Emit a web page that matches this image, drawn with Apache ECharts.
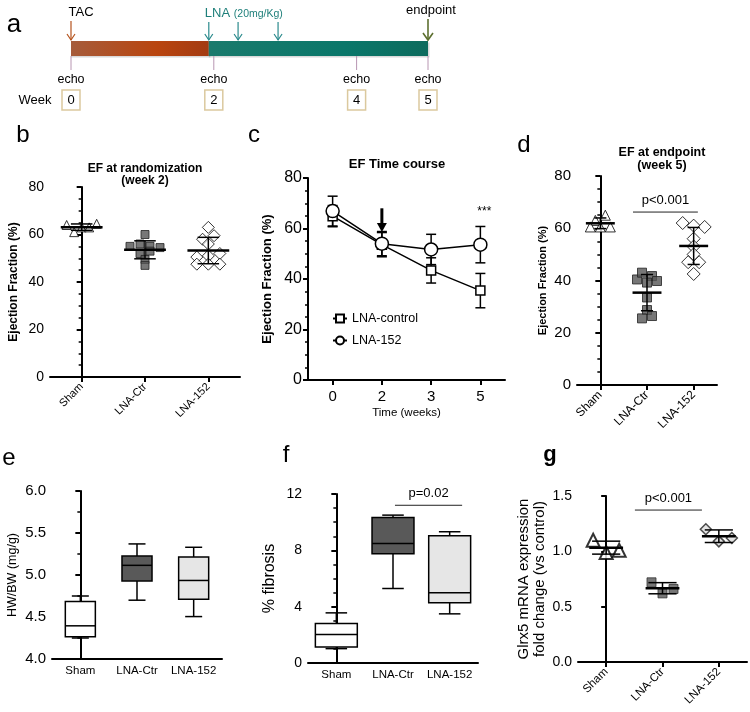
<!DOCTYPE html>
<html><head><meta charset="utf-8">
<script src="https://cdn.jsdelivr.net/npm/echarts@6/dist/echarts.min.js"></script>
<style>html,body{margin:0;padding:0;background:#fff}#c{width:750px;height:712px}</style>
</head><body><div id="c"></div>
<script>
const FONT = '"Liberation Sans", Arial, Helvetica, sans-serif';

// ---------- Panel a (timeline, weeks) ----------
const echoWeeks = [0, 2, 4, 5];
const tacWeek = 0;
const lnaDoseWeeks = [1.93, 2.34, 2.9];
const endpointWeek = 5;

// ---------- Panel b: EF at randomization (week 2) ----------
const groups = ['Sham', 'LNA-Ctr', 'LNA-152'];
const bSham = [64, 61, 63, 63, 64.5];
const bCtr = [55, 56, 60, 55, 54.5, 52, 49.5, 47, 53];
const b152 = [63, 58, 59.5, 56, 50.5, 51, 52, 47.5, 47.5, 47.5];

// ---------- Panel c: EF time course ----------
const weeks = ['0', '2', '3', '5'];
const cCtrMean = [64.9, 53.6, 43.4, 35.4];
const cCtrSD = [4.2, 4.8, 5.0, 6.8];
const c152Mean = [66.9, 54.0, 51.7, 53.6];
const c152SD = [5.9, 4.8, 6.0, 7.2];

// ---------- Panel d: EF at endpoint (week 5) ----------
const dSham = [63, 65, 60.5, 60.5, 60.5];
const dCtr = [40.4, 43, 41.7, 39.2, 39.8, 33.5, 28.7, 25.5, 26.4];
const d152 = [62, 61, 60.5, 56, 53, 50, 47, 47, 42.5];

// ---------- Panel e: HW/BW box [min, Q1, median, Q3, max] ----------
const eSham = [4.25, 4.265, 4.395, 4.685, 4.75];
const eCtr = [4.70, 4.93, 5.115, 5.225, 5.37];
const e152 = [4.505, 4.71, 4.935, 5.215, 5.33];

// ---------- Panel f: % fibrosis box ----------
const fSham = [1.02, 1.14, 2.02, 2.80, 3.56];
const fCtr = [5.29, 7.75, 8.49, 10.34, 10.5];
const f152 = [3.49, 4.27, 4.98, 9.03, 9.32];

// ---------- Panel g: Glrx5 mRNA ----------
const gSham = [1.10, 0.99, 1.01];
const gCtr = [0.72, 0.62, 0.66];
const g152 = [1.20, 1.09, 1.12];

// ---------- helpers ----------
function mean(a){return a.reduce((s,v)=>s+v,0)/a.length;}
function sd(a){const m=mean(a);return Math.sqrt(a.reduce((s,v)=>s+(v-m)*(v-m),0)/(a.length-1));}
// GraphPad-like scatter layout: points with close values share a row, spread horizontally
function swarmData(vals, idx, pxY, catPx, thrPx, spPx){
  const order=vals.map((v,i)=>i).sort((a,b)=>vals[b]-vals[a]);
  const rows=[];let cur=null;
  order.forEach(i=>{ if(cur && (vals[cur[0]]-vals[i])*pxY < thrPx) cur.push(i); else {cur=[i];rows.push(cur);} });
  const off=new Array(vals.length).fill(0);
  rows.forEach(r=>{ r.sort((a,b)=>a-b); r.forEach((i,k)=>{ off[i]=(k-(r.length-1)/2)*spPx/catPx; }); });
  return vals.map((v,i)=>[idx+off[i],v]);
}
const BLACK='#000';
function yAx(grid,min,max,interval,o){
  return {type:'value',gridIndex:grid,min,max,interval,
    axisLine:{show:true,lineStyle:{color:BLACK,width:2}},
    axisTick:{show:true,length:5,lineStyle:{color:BLACK,width:2}},
    minorTick:{show:(o.minor||0)>0,splitNumber:o.minor||2,length:3,lineStyle:{color:BLACK,width:1.5}},
    splitLine:{show:false},
    axisLabel:{color:BLACK,fontSize:o.fs||14,margin:o.margin||6,fontFamily:FONT,formatter:o.fmt||'{value}'},
    name:o.name,nameLocation:'middle',nameGap:o.gap,
    nameTextStyle:{color:BLACK,fontFamily:FONT,fontSize:o.nfs,fontWeight:o.bold?'bold':'normal',lineHeight:o.nlh||o.nfs*1.2}};
}
function xCat(grid,data,o){
  return {type:'category',gridIndex:grid,data,boundaryGap:true,
    axisLine:{show:true,lineStyle:{color:BLACK,width:2}},
    axisTick:{show:!!o.tick,alignWithLabel:true,length:5,lineStyle:{color:BLACK,width:2}},
    axisLabel:{color:BLACK,fontSize:o.fs||11,rotate:o.rotate||0,margin:o.margin||8,fontFamily:FONT,interval:0},
    name:o.name,nameLocation:'middle',nameGap:o.gap,
    nameTextStyle:{color:BLACK,fontFamily:FONT,fontSize:o.nfs||11}};
}
function xVal(grid){return {type:'value',gridIndex:grid,min:-0.5,max:2.5,show:false};}

function meanSDSeries(xi,yi,sets,meanR,capR,z){
  return {type:'custom',xAxisIndex:xi,yAxisIndex:yi,z:z||5,silent:true,
    data:sets.map((a,i)=>[i,mean(a),sd(a)]),
    renderItem:(p,api)=>{
      const x=api.value(0),m=api.value(1),s=api.value(2);
      const w=api.size([1,0])[0];
      const c=api.coord([x,m]),t=api.coord([x,m+s]),b=api.coord([x,m-s]);
      const mh=w*meanR,ch=w*capR;
      const st={stroke:BLACK,lineWidth:1.5};
      return {type:'group',children:[
        {type:'line',shape:{x1:c[0],y1:t[1],x2:c[0],y2:b[1]},style:st},
        {type:'line',shape:{x1:c[0]-ch,y1:t[1],x2:c[0]+ch,y2:t[1]},style:st},
        {type:'line',shape:{x1:c[0]-ch,y1:b[1],x2:c[0]+ch,y2:b[1]},style:st},
        {type:'line',shape:{x1:c[0]-mh,y1:c[1],x2:c[0]+mh,y2:c[1]},style:{stroke:BLACK,lineWidth:2.5}}
      ]};
    }};
}
const boxFills=['#ffffff','#595959','#e6e6e6'];
function boxSeries(xi,yi,sets,boxR,capR){
  return {type:'custom',xAxisIndex:xi,yAxisIndex:yi,z:4,silent:true,
    data:sets.map((a,i)=>[i].concat(a)),
    renderItem:(p,api)=>{
      const i=api.value(0),w=api.size([1,0])[0];
      const y=k=>api.coord([i,api.value(k)])[1];
      const cx=api.coord([i,api.value(3)])[0];
      const bh=w*boxR,ch=w*capR;
      const st={stroke:BLACK,lineWidth:1.5};
      const yMin=y(1),yQ1=y(2),yMed=y(3),yQ3=y(4),yMax=y(5);
      return {type:'group',children:[
        {type:'line',shape:{x1:cx,y1:yMax,x2:cx,y2:yQ3},style:st},
        {type:'line',shape:{x1:cx,y1:yQ1,x2:cx,y2:yMin},style:st},
        {type:'line',shape:{x1:cx-ch,y1:yMax,x2:cx+ch,y2:yMax},style:st},
        {type:'line',shape:{x1:cx-ch,y1:yMin,x2:cx+ch,y2:yMin},style:st},
        {type:'rect',shape:{x:cx-bh,y:yQ3,width:2*bh,height:yQ1-yQ3},style:{fill:boxFills[i],stroke:BLACK,lineWidth:1.5}},
        {type:'line',shape:{x1:cx-bh,y1:yMed,x2:cx+bh,y2:yMed},style:st}
      ]};
    }};
}
function sigSeries(xi,yi,from,to,yv,text){
  return {type:'custom',xAxisIndex:xi,yAxisIndex:yi,z:6,silent:true,data:[[from,to,yv]],
    renderItem:(p,api)=>{
      const a=api.coord([api.value(0),api.value(2)]),b=api.coord([api.value(1),api.value(2)]);
      return {type:'group',children:[
        {type:'line',shape:{x1:a[0],y1:a[1],x2:b[0],y2:b[1]},style:{stroke:'#222',lineWidth:1}},
        {type:'text',x:(a[0]+b[0])/2,y:a[1]-12,style:{text:text,fill:BLACK,fontSize:13,fontFamily:FONT,align:'center',verticalAlign:'middle'}}
      ]};
    }};
}

// grid geometry
const G = {
  a:{left:71,top:41,width:357,height:15},
  b:{left:50,top:187,width:190,height:190},
  c:{left:308,top:178,width:197,height:202},
  d:{left:577,top:176,width:140,height:209},
  e:{left:52,top:491,width:170,height:168},
  f:{left:308,top:494,width:170,height:169},
  g:{left:578,top:496,width:169,height:166}
};
const bpx=190/80, bcat=190/3, dpx=209/80, dcat=140/3, gpx=166/1.5, gcat=169/3;

const phaseColors=[['#a65c3b','#b9450f','#a33b12'],['#1a7a6c','#0a776a','#0d6b5d']];

const option = {
  animation:false,
  backgroundColor:'#fff',
  textStyle:{fontFamily:FONT},
  grid:[G.a,G.b,G.c,G.d,G.e,G.f,G.g].map(g=>Object.assign({containLabel:false},g)),
  xAxis:[
    {type:'value',gridIndex:0,min:0,max:5,show:false},
    xCat(1,groups,{tick:true,rotate:45,fs:11,margin:8}),
    xVal(1),
    xCat(2,weeks,{tick:true,fs:15,margin:9,name:'Time (weeks)',gap:27,nfs:11.5}),
    xCat(3,groups,{tick:true,rotate:45,fs:12,margin:8}),
    xVal(3),
    xCat(4,groups,{tick:false,fs:11.5,margin:6}),
    xVal(4),
    xCat(5,groups,{tick:false,fs:11.5,margin:6}),
    xVal(5),
    xCat(6,groups,{tick:true,rotate:45,fs:11.5,margin:8}),
    xVal(6)
  ],
  yAxis:[
    {type:'value',gridIndex:0,min:0,max:1,show:false},
    yAx(1,0,80,20,{minor:4,fs:14,name:'Ejection Fraction (%)',gap:29,nfs:12,bold:true}),
    yAx(2,0,80,20,{minor:4,fs:16,name:'Ejection Fraction (%)',gap:33,nfs:13,bold:true}),
    yAx(3,0,80,20,{minor:4,fs:15,name:'Ejection Fraction (%)',gap:27,nfs:11,bold:true}),
    yAx(4,4,6,0.5,{minor:2,fs:15,name:'HW/BW (mg/g)',gap:32,nfs:12.5,fmt:v=>v.toFixed(1)}),
    yAx(5,0,12,4,{minor:4,fs:14,name:'% fibrosis',gap:29,nfs:16}),
    yAx(6,0,1.5,0.5,{minor:0,fs:14,name:'Glrx5 mRNA expression\nfold change (vs control)',gap:30,nfs:15,nlh:16,fmt:v=>v.toFixed(1)})
  ],
  legend:{data:['LNA-control','LNA-152'],orient:'vertical',left:327,top:307,itemGap:9,itemWidth:14,itemHeight:10,
    textStyle:{fontSize:12.5,color:BLACK,fontFamily:FONT}},
  series:[
    // ---- panel a ----
    {type:'custom',xAxisIndex:0,yAxisIndex:0,silent:true,z:2,
      data:[[tacWeek,lnaDoseWeeks[0]],[lnaDoseWeeks[0],endpointWeek]],
      renderItem:(p,api)=>{
        const a=api.coord([api.value(0),1]),b=api.coord([api.value(1),0]);
        const c=phaseColors[p.dataIndex];
        return {type:'group',children:[
          {type:'rect',shape:{x:a[0],y:a[1]+1.5,width:b[0]-a[0]+1.5,height:b[1]-a[1]},style:{fill:'rgba(0,0,0,0.15)'}},
          {type:'rect',shape:{x:a[0],y:a[1],width:b[0]-a[0],height:b[1]-a[1]},
          style:{fill:new echarts.graphic.LinearGradient(0,0,1,0,[{offset:0,color:c[0]},{offset:0.62,color:c[1]},{offset:1,color:c[2]}])}}]};
      }},
    {type:'custom',xAxisIndex:0,yAxisIndex:0,silent:true,z:3,
      data:echoWeeks.map(w=>[w,0]),
      renderItem:(p,api)=>{
        const w=api.value(0),q=api.coord([w,0]),x=q[0],y=q[1];
        return {type:'group',children:[
          {type:'line',shape:{x1:x,y1:y,x2:x,y2:y+14},style:{stroke:'#b896b2',lineWidth:1}},
          {type:'text',x:x,y:y+24,style:{text:'echo',fill:BLACK,fontSize:12.5,fontFamily:FONT,align:'center',verticalAlign:'middle'}},
          {type:'rect',shape:{x:x-9,y:y+34,width:18,height:20},style:{fill:'none',stroke:'#dbc99e',lineWidth:1.5}},
          {type:'text',x:x,y:y+44,style:{text:String(w),fill:BLACK,fontSize:13,fontFamily:FONT,align:'center',verticalAlign:'middle'}}
        ]};
      }},
    {type:'custom',xAxisIndex:0,yAxisIndex:0,silent:true,z:3,
      data:[[tacWeek,0]].concat(lnaDoseWeeks.map((w,i)=>[w,i===0?1:2])).concat([[endpointWeek,3]]),
      renderItem:(p,api)=>{
        const kind=api.value(1),q=api.coord([api.value(0),1]),x=q[0],tip=q[1]-1;
        const col=['#b5531d','#2a8a8c','#2a8a8c','#5d7030'][kind];
        const len=[19,18,18,21][kind], hw=kind===3?5:4, hh=kind===3?7:6, lw=kind===3?1.6:1.2;
        const ch=[
          {type:'line',shape:{x1:x,y1:tip-len,x2:x,y2:tip},style:{stroke:col,lineWidth:lw}},
          {type:'polyline',shape:{points:[[x-hw,tip-hh],[x,tip],[x+hw,tip-hh]]},style:{stroke:col,lineWidth:lw,fill:'none'}}
        ];
        if(kind===0) ch.push({type:'text',x:x+10,y:tip-28,style:{text:'TAC',fill:BLACK,fontSize:13,fontFamily:FONT,align:'center',verticalAlign:'middle'}});
        if(kind===1){
          ch.push({type:'text',x:x-4,y:tip-27,style:{text:'LNA',fill:'#1e7f7a',fontSize:13,fontFamily:FONT,align:'left',verticalAlign:'middle'}});
          ch.push({type:'text',x:x+25,y:tip-26,style:{text:'(20mg/Kg)',fill:'#1e7f7a',fontSize:10.5,fontFamily:FONT,align:'left',verticalAlign:'middle'}});
        }
        if(kind===3) ch.push({type:'text',x:x+3,y:tip-30,style:{text:'endpoint',fill:BLACK,fontSize:13,fontFamily:FONT,align:'center',verticalAlign:'middle'}});
        return {type:'group',children:ch};
      }},
    // ---- panel b ----
    {type:'scatter',xAxisIndex:2,yAxisIndex:1,z:3,symbol:'triangle',symbolSize:9,
      itemStyle:{color:'#fff',borderColor:BLACK,borderWidth:1},data:swarmData(bSham,0,bpx,bcat,10,7.5)},
    {type:'scatter',xAxisIndex:2,yAxisIndex:1,z:3,symbol:'rect',symbolSize:8,
      itemStyle:{color:'#555',borderColor:'#222',borderWidth:1},data:swarmData(bCtr,1,bpx,bcat,5.4,10)},
    {type:'scatter',xAxisIndex:2,yAxisIndex:1,z:3,symbol:'diamond',symbolSize:12,
      itemStyle:{color:'#fff',borderColor:BLACK,borderWidth:1},data:swarmData(b152,2,bpx,bcat,6.6,11.5)},
    meanSDSeries(2,1,[bSham,bCtr,b152],0.33,0.17),
    // ---- panel c ----
    {type:'custom',xAxisIndex:3,yAxisIndex:2,z:1,silent:true,
      data:cCtrMean.map((m,i)=>[i,m,cCtrSD[i]]).concat(c152Mean.map((m,i)=>[i,m,c152SD[i]])),
      renderItem:(p,api)=>{
        const i=api.value(0),m=api.value(1),s=api.value(2);
        const t=api.coord([i,m+s]),b=api.coord([i,m-s]),x=t[0];
        const st={stroke:BLACK,lineWidth:1.5};
        return {type:'group',children:[
          {type:'line',shape:{x1:x,y1:t[1],x2:x,y2:b[1]},style:st},
          {type:'line',shape:{x1:x-5,y1:t[1],x2:x+5,y2:t[1]},style:st},
          {type:'line',shape:{x1:x-5,y1:b[1],x2:x+5,y2:b[1]},style:st}]};
      }},
    {name:'LNA-control',type:'line',xAxisIndex:3,yAxisIndex:2,z:3,data:cCtrMean,symbol:'rect',symbolSize:9,
      itemStyle:{color:'#fff',borderColor:BLACK,borderWidth:1.5},lineStyle:{color:BLACK,width:1.5}},
    {name:'LNA-152',type:'line',xAxisIndex:3,yAxisIndex:2,z:4,data:c152Mean,symbol:'circle',symbolSize:13,
      itemStyle:{color:'#fff',borderColor:BLACK,borderWidth:1.5},lineStyle:{color:BLACK,width:1.5}},
    {type:'custom',xAxisIndex:3,yAxisIndex:2,z:5,silent:true,data:[[1,68,58.6,'arrow'],[3,66.5,0,'***']],
      renderItem:(p,api)=>{
        const i=api.value(0);
        if(p.dataIndex===0){
          const a=api.coord([i,api.value(1)]),b=api.coord([i,api.value(2)]);
          return {type:'group',children:[
            {type:'line',shape:{x1:a[0],y1:a[1],x2:a[0],y2:b[1]-7},style:{stroke:BLACK,lineWidth:3}},
            {type:'polygon',shape:{points:[[a[0]-5,b[1]-9],[a[0]+5,b[1]-9],[a[0],b[1]]]},style:{fill:BLACK}}]};
        }
        const a=api.coord([i,api.value(1)]);
        return {type:'text',x:a[0]+4,y:a[1],style:{text:'***',fill:BLACK,fontSize:12,fontFamily:FONT,align:'center',verticalAlign:'middle'}};
      }},
    // ---- panel d ----
    {type:'scatter',xAxisIndex:5,yAxisIndex:3,z:3,symbol:'triangle',symbolSize:10,
      itemStyle:{color:'#fff',borderColor:BLACK,borderWidth:1},data:swarmData(dSham,0,dpx,dcat,6,10)},
    {type:'scatter',xAxisIndex:5,yAxisIndex:3,z:3,symbol:'rect',symbolSize:9,
      itemStyle:{color:'#555',borderColor:'#222',borderWidth:1},data:swarmData(dCtr,1,dpx,dcat,6,10)},
    {type:'scatter',xAxisIndex:5,yAxisIndex:3,z:3,symbol:'diamond',symbolSize:13,
      itemStyle:{color:'#fff',borderColor:BLACK,borderWidth:1},data:swarmData(d152,2,dpx,dcat,7,11)},
    meanSDSeries(5,3,[dSham,dCtr,d152],0.31,0.13),
    sigSeries(5,3,0.70,2.09,66.2,'p<0.001'),
    // ---- panel e ----
    boxSeries(7,4,[eSham,eCtr,e152],0.265,0.15),
    // ---- panel f ----
    boxSeries(9,5,[fSham,fCtr,f152],0.37,0.19),
    sigSeries(9,5,1.035,2.22,11.2,'p=0.02'),
    // ---- panel g ----
    {type:'scatter',xAxisIndex:11,yAxisIndex:6,z:3,symbol:'triangle',symbolSize:13,
      itemStyle:{color:'#fff',borderColor:BLACK,borderWidth:2},data:swarmData(gSham,0,gpx,gcat,14,13)},
    {type:'scatter',xAxisIndex:11,yAxisIndex:6,z:3,symbol:'rect',symbolSize:9,
      itemStyle:{color:'#555',borderColor:'#333',borderWidth:1},data:swarmData(gCtr,1,gpx,gcat,14,11)},
    {type:'scatter',xAxisIndex:11,yAxisIndex:6,z:3,symbol:'diamond',symbolSize:11,
      itemStyle:{color:'#ddd',borderColor:'#222',borderWidth:1.5},data:swarmData(g152,2,gpx,gcat,14,13)},
    meanSDSeries(11,6,[gSham,gCtr,g152],0.30,0.25),
    sigSeries(11,6,0.51,1.70,1.373,'p<0.001')
  ],
  graphic:[
    {type:'text',x:14,y:25,style:{text:'a',fill:BLACK,fontSize:26,fontFamily:FONT,align:'center',verticalAlign:'middle'}},
    {type:'text',x:35,y:100,style:{text:'Week',fill:BLACK,fontSize:13,fontFamily:FONT,align:'center',verticalAlign:'middle'}},
    {type:'text',x:23,y:135,style:{text:'b',fill:BLACK,fontSize:24,fontFamily:FONT,align:'center',verticalAlign:'middle'}},
    {type:'text',x:254,y:135,style:{text:'c',fill:BLACK,fontSize:24,fontFamily:FONT,align:'center',verticalAlign:'middle'}},
    {type:'text',x:524,y:145,style:{text:'d',fill:BLACK,fontSize:24,fontFamily:FONT,align:'center',verticalAlign:'middle'}},
    {type:'text',x:9,y:458,style:{text:'e',fill:BLACK,fontSize:24,fontFamily:FONT,align:'center',verticalAlign:'middle'}},
    {type:'text',x:286,y:455,style:{text:'f',fill:BLACK,fontSize:24,fontFamily:FONT,align:'center',verticalAlign:'middle'}},
    {type:'text',x:550,y:455,style:{text:'g',fill:BLACK,fontSize:22,fontWeight:'bold',fontFamily:FONT,align:'center',verticalAlign:'middle'}},
    {type:'text',x:145,y:169,style:{text:'EF at randomization',fill:BLACK,fontSize:12,fontWeight:'bold',fontFamily:FONT,align:'center',verticalAlign:'middle'}},
    {type:'text',x:145,y:181,style:{text:'(week 2)',fill:BLACK,fontSize:12,fontWeight:'bold',fontFamily:FONT,align:'center',verticalAlign:'middle'}},
    {type:'text',x:397,y:164,style:{text:'EF Time course',fill:BLACK,fontSize:13,fontWeight:'bold',fontFamily:FONT,align:'center',verticalAlign:'middle'}},
    {type:'text',x:662,y:153,style:{text:'EF at endpoint',fill:BLACK,fontSize:12.5,fontWeight:'bold',fontFamily:FONT,align:'center',verticalAlign:'middle'}},
    {type:'text',x:662,y:166,style:{text:'(week 5)',fill:BLACK,fontSize:12.5,fontWeight:'bold',fontFamily:FONT,align:'center',verticalAlign:'middle'}}
  ]
};
const chart = echarts.init(document.getElementById('c'), null, {renderer:'canvas', width:750, height:712});
chart.setOption(option);
</script>
</body></html>
